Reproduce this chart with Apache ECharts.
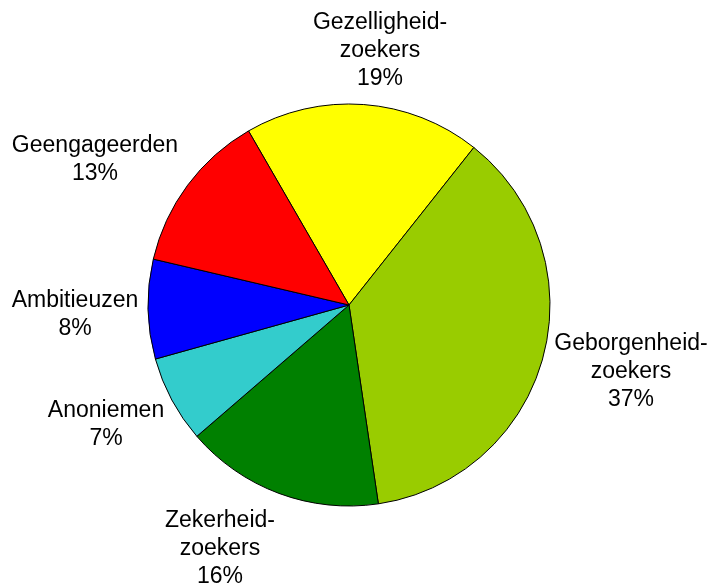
<!DOCTYPE html>
<html>
<head>
<meta charset="utf-8">
<script src="https://cdn.jsdelivr.net/npm/echarts@6/dist/echarts.min.js"></script>
<style>
  html, body { margin: 0; padding: 0; background: #fff; }
  #chart { width: 708px; height: 586px; }
</style>
</head>
<body>
<div id="chart"></div>
<script>
// Segment names (clockwise from the top) and their shares in percent
const segments = ['Gezelligheid-\nzoekers', 'Geborgenheid-\nzoekers', 'Zekerheid-\nzoekers', 'Anoniemen', 'Ambitieuzen', 'Geengageerden'];
const shares = [19, 37, 16, 7, 8, 13];
const colors = ['#FFFF00', '#99CC00', '#008000', '#33CCCC', '#0000FF', '#FF0000'];

// Label anchor offsets from the pie centre, one per segment
const pieCenter = [349, 305];
const labelAnchors = [[31, -254], [282, 67], [-129, 244], [-243, 120], [-274, 10], [-254, -145]];

const chart = echarts.init(document.getElementById('chart'), null, { renderer: 'canvas' });

chart.setOption({
  backgroundColor: '#ffffff',
  animation: false,
  series: [{
    type: 'pie',
    center: pieCenter,
    radius: 201,
    startAngle: 120,
    clockwise: true,
    avoidLabelOverlap: false,
    data: segments.map((name, i) => ({
      name: name,
      value: shares[i],
      itemStyle: { color: colors[i] }
    })),
    itemStyle: { borderColor: '#000000', borderWidth: 1 },
    emphasis: { disabled: true },
    label: {
      show: true,
      position: 'outside',
      formatter: p => p.name + '\n' + p.value + '%',
      fontFamily: 'Liberation Sans, Arial, sans-serif',
      fontSize: 23,
      lineHeight: 28,
      color: '#000000',
      align: 'center'
    },
    labelLine: { show: false },
    labelLayout: function (params) {
      const a = labelAnchors[params.dataIndex];
      return {
        x: pieCenter[0] + a[0],
        y: pieCenter[1] + a[1],
        align: 'center',
        verticalAlign: 'middle'
      };
    }
  }]
});
</script>
</body>
</html>
